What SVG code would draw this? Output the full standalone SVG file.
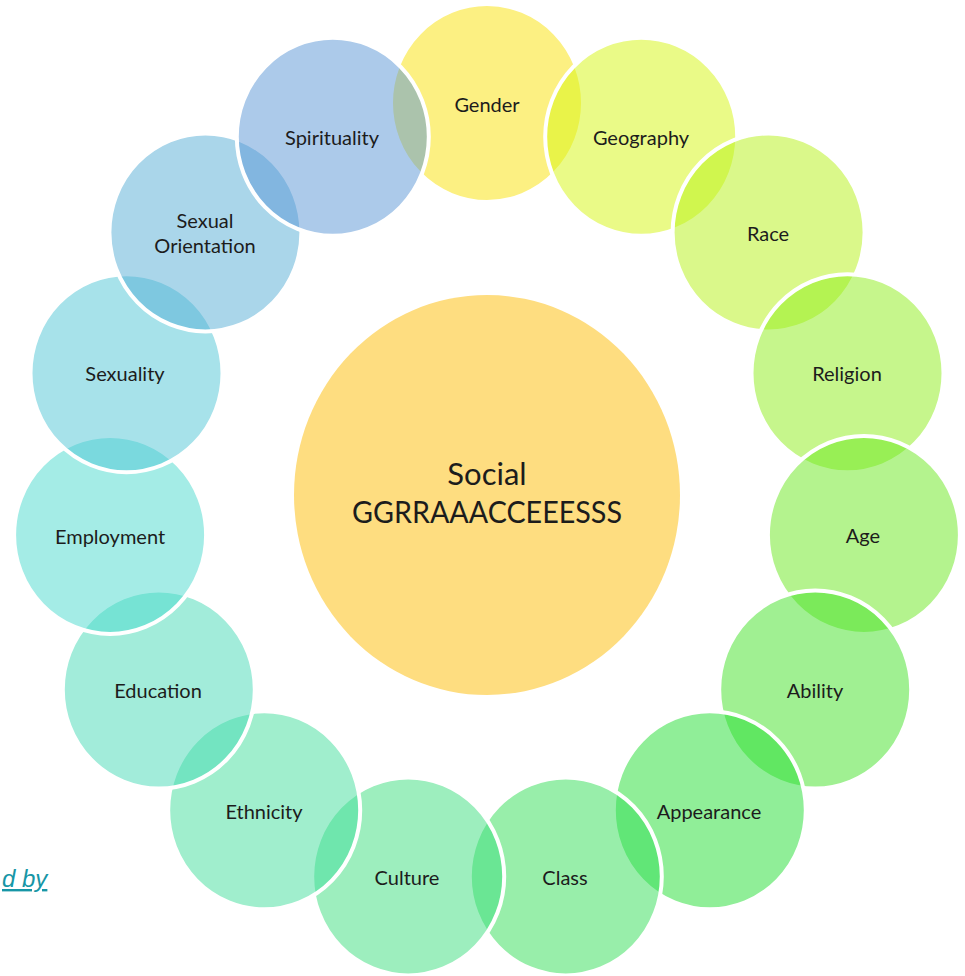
<svg xmlns="http://www.w3.org/2000/svg" width="965" height="976" viewBox="0 0 965 976">
<style>
.n{stroke:#ffffff;stroke-width:4;fill-opacity:0.5}
.t{font-family:Lato,"Liberation Sans",sans-serif;font-size:20px;fill:#1c1c1c;text-anchor:middle}
.c{font-family:Lato,"Liberation Sans",sans-serif;font-size:31px;fill:#1c1c1c;text-anchor:middle}
</style>
<rect width="965" height="976" fill="#ffffff"/>
<g id="connectors"/>
<g id="center">
<ellipse cx="487" cy="495" rx="193" ry="200" fill="#FEDD80"/>
<text class="c" x="487" y="485">Social</text>
<text class="c" x="487" y="523" textLength="270" lengthAdjust="spacingAndGlyphs">GGRRAAACCEEESSS</text>
</g>
<g id="gender"><ellipse class="n" cx="487" cy="103" rx="96" ry="99" fill="#F9E105"/><text class="t" x="487" y="112">Gender</text></g>
<g id="geography"><ellipse class="n" cx="641.2" cy="136.8" rx="96" ry="99" fill="#D5F50F"/><text class="t" x="641" y="145">Geography</text></g>
<g id="race"><ellipse class="n" cx="768.6" cy="232.4" rx="96" ry="99" fill="#B5F115"/><text class="t" x="768" y="241">Race</text></g>
<g id="religion"><ellipse class="n" cx="847.5" cy="373.2" rx="96" ry="99" fill="#8DED19"/><text class="t" x="847" y="381">Religion</text></g>
<g id="age"><ellipse class="n" cx="863.9" cy="534.9" rx="96" ry="99" fill="#69E71D"/><text class="t" x="863" y="543">Age</text></g>
<g id="ability"><ellipse class="n" cx="815.2" cy="689.5" rx="96" ry="99" fill="#41E125"/><text class="t" x="815" y="698">Ability</text></g>
<g id="appearance"><ellipse class="n" cx="709.8" cy="810.3" rx="96" ry="99" fill="#21DD31"/><text class="t" x="709" y="819">Appearance</text></g>
<g id="class"><ellipse class="n" cx="565.8" cy="876.4" rx="96" ry="99" fill="#31DD55"/><text class="t" x="565" y="885">Class</text></g>
<g id="culture"><ellipse class="n" cx="408.2" cy="876.4" rx="96" ry="99" fill="#3BDD7D"/><text class="t" x="407" y="885">Culture</text></g>
<g id="ethnicity"><ellipse class="n" cx="264.2" cy="810.3" rx="96" ry="99" fill="#41DD9B"/><text class="t" x="264" y="819">Ethnicity</text></g>
<g id="education"><ellipse class="n" cx="158.8" cy="689.5" rx="96" ry="99" fill="#45D9B5"/><text class="t" x="158" y="698">Education</text></g>
<g id="employment"><ellipse class="n" cx="110.1" cy="534.9" rx="96" ry="99" fill="#49D9CD"/><text class="t" x="110" y="544">Employment</text></g>
<g id="sexuality"><ellipse class="n" cx="126.5" cy="373.2" rx="96" ry="99" fill="#4FC5D5"/><text class="t" x="125" y="381">Sexuality</text></g>
<g id="sexual-orientation"><ellipse class="n" cx="205.4" cy="232.4" rx="96" ry="99" fill="#55ADD5"/><text class="t" x="205" y="228">Sexual</text><text class="t" x="205" y="253">Orientation</text></g>
<g id="spirituality"><ellipse class="n" cx="332.8" cy="136.8" rx="96" ry="99" fill="#5995D5"/><text class="t" x="332" y="145">Spirituality</text></g>
<g id="link"><text x="2" y="887" font-family="'Liberation Sans',sans-serif" font-style="italic" font-size="24" fill="#1796A6" text-decoration="underline">d by</text></g>
</svg>
